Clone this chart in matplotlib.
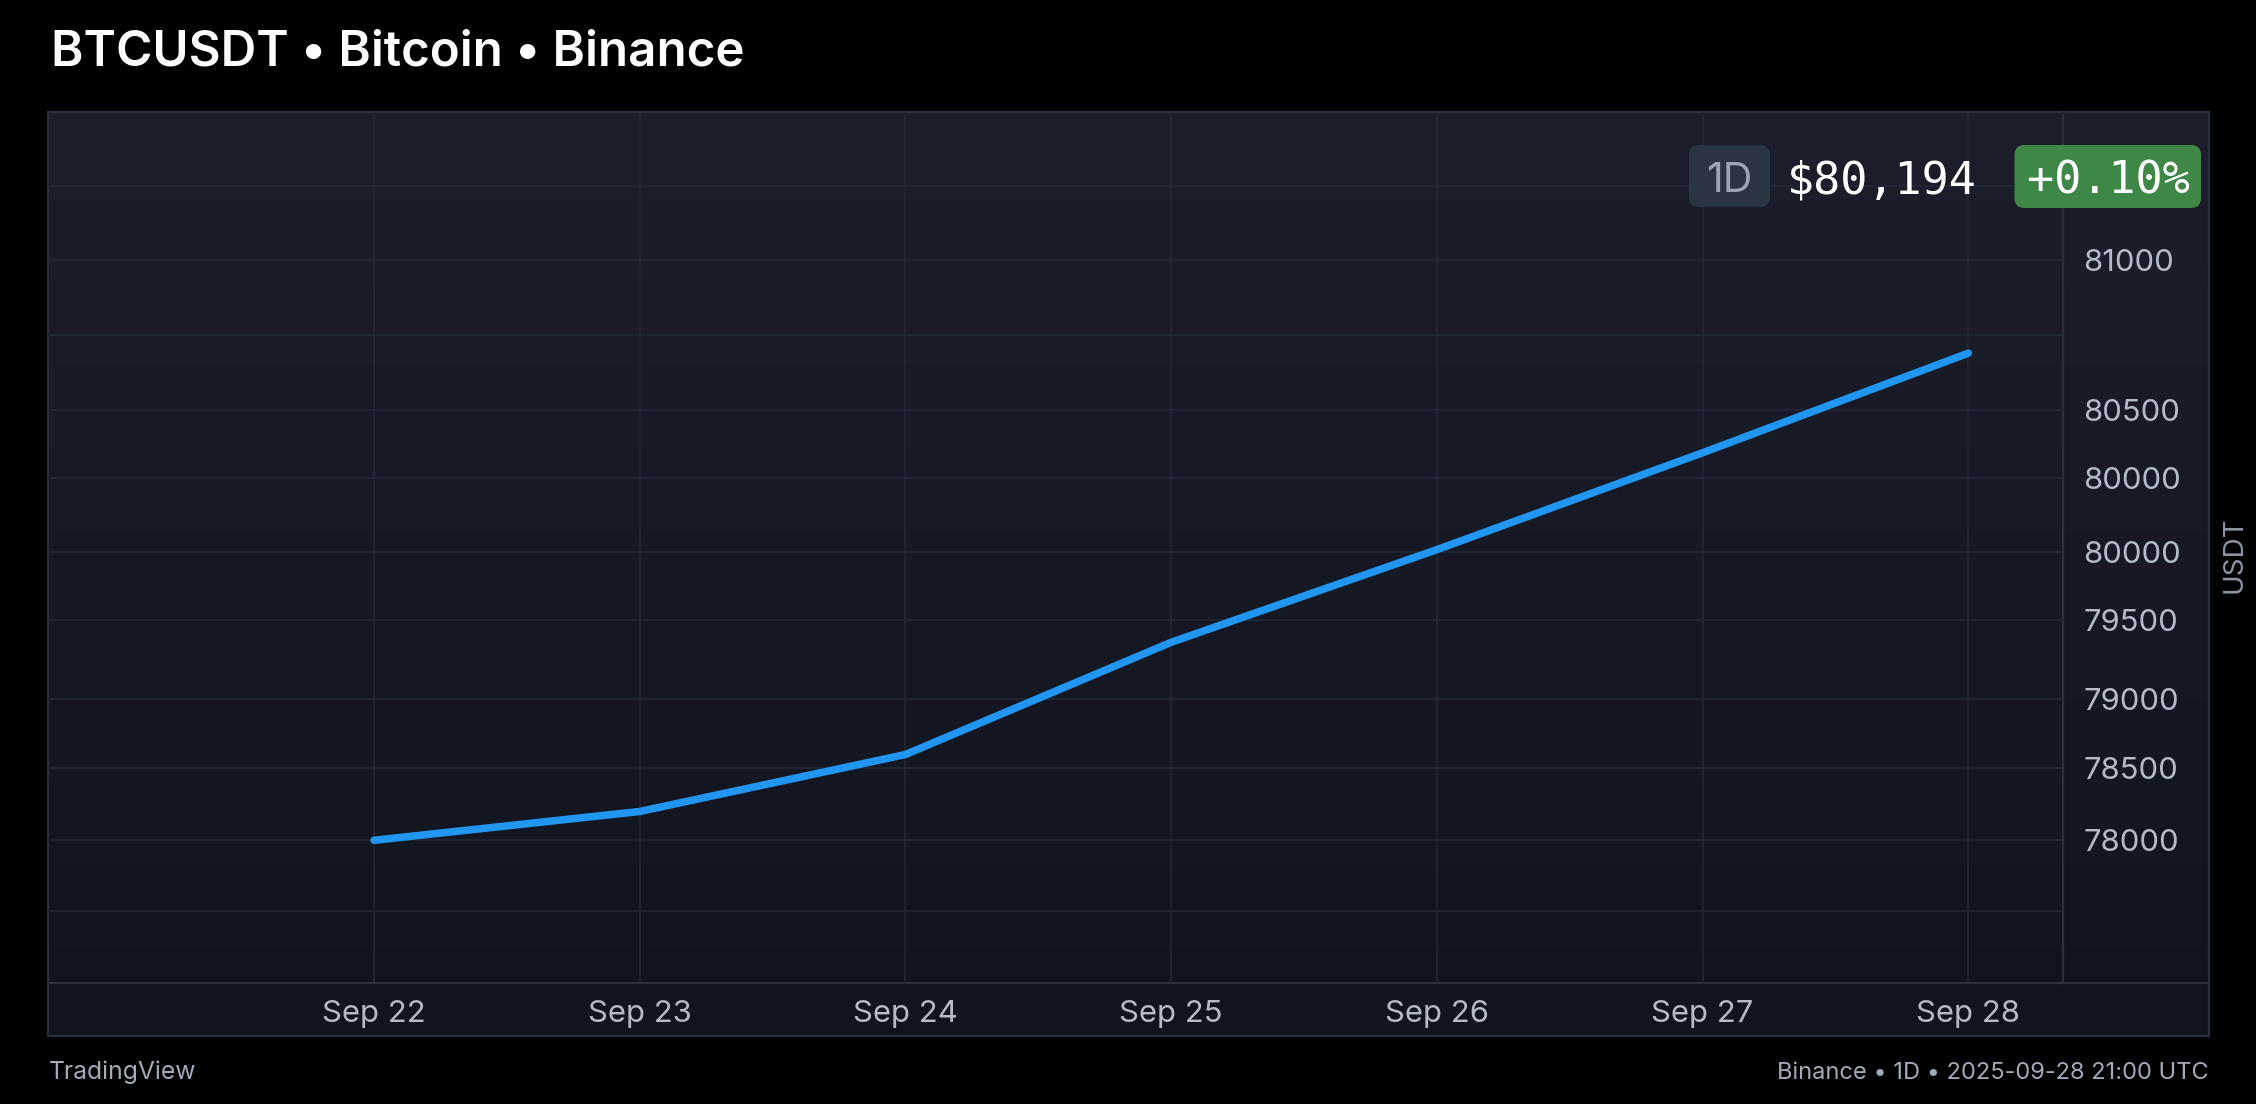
import numpy as np
import matplotlib
matplotlib.use("Agg")
import matplotlib.pyplot as plt
from matplotlib.patches import FancyBboxPatch, Rectangle
from matplotlib.lines import Line2D
from matplotlib.transforms import IdentityTransform
from matplotlib.ticker import NullFormatter

# ---------------- data ----------------
dates = ["Sep 22", "Sep 23", "Sep 24", "Sep 25", "Sep 26", "Sep 27", "Sep 28"]
close = [78000, 78200, 78600, 79360, 80010, 80350, 80690]

ytick_values = [78000, 78500, 79000, 79500, 80000, 80260, 80500, 81000]
ytick_labels = ["78000", "78500", "79000", "79500", "80000", "80000", "80500", "81000"]
extra_grid_values = [77500, 80750, 81500]

title = "BTCUSDT \u2022 Bitcoin \u2022 Binance"
interval = "1D"
last_price = "$80,194"
change = "+0.10%"
currency = "USDT"
footer_left = "TradingView"
footer_right = "Binance \u2022 1D \u2022 2025-09-28 21:00 UTC"

# price-scale knots (price -> relative height on the price scale)
scale_prices = [77000, 78000, 78500, 79000, 79500, 80000, 80500, 81000, 82000]
scale_rows = [0, 99, 149, 197, 252, 299, 398, 502, 605]

def fwd(v):
    return np.interp(v, scale_prices, scale_rows)

def inv(r):
    return np.interp(r, scale_rows, scale_prices)

# ---------------- layout ----------------
W, H = 2256, 1104
DPI = 100
fig = plt.figure(figsize=(W / DPI, H / DPI), dpi=DPI, facecolor="#000000")

panel_l, panel_r = 47.5, 2208.6
panel_t, panel_b = 112.2, 1036.0
main_r, main_b = 2063.2, 982.7

BORDER = "#2a2f3c"
GRID = "#232836"
TICK = "#b3bbc8"
FOOT = "#a3abb9"
FONT = "Inter"

bg = fig.add_axes([panel_l / W, 1 - panel_b / H, (panel_r - panel_l) / W, (panel_b - panel_t) / H])
grad = np.linspace(0, 1, 256).reshape(-1, 1)
top_c = np.array([0x1c, 0x1f, 0x2b]) / 255
bot_c = np.array([0x10, 0x14, 0x1f]) / 255
img = top_c[None, None, :] * (1 - grad[:, :, None]) + bot_c[None, None, :] * grad[:, :, None]
bg.imshow(img, extent=[0, 1, 0, 1], aspect="auto", origin="upper")
bg.set_xlim(0, 1)
bg.set_ylim(0, 1)
bg.axis("off")
bg.add_patch(Rectangle((0, 0), 1, 1, transform=bg.transAxes, fill=False,
                       edgecolor=BORDER, lw=1.6, clip_on=False))
sep = (panel_b - main_b) / (panel_b - panel_t)
bg.add_line(Line2D([0, 1], [sep, sep], transform=bg.transAxes, color=BORDER, lw=1.6))

ax = fig.add_axes([panel_l / W, 1 - main_b / H, (main_r - panel_l) / W, (main_b - panel_t) / H])
ax.set_facecolor("none")
ax.set_yscale("function", functions=(fwd, inv))

x = np.arange(len(dates))
ax.plot(x, close, color="#2196f3", lw=5.4, solid_capstyle="round",
        solid_joinstyle="round", zorder=3)

ax.set_xlim(-1.2292, 6.3573)
ax.set_ylim(77000, 82000)

ax.set_xticks(x)
ax.set_xticklabels(dates)
ax.set_yticks(ytick_values)
ax.set_yticklabels(ytick_labels)
ax.set_yticks(extra_grid_values, minor=True)
ax.yaxis.set_minor_formatter(NullFormatter())
ax.yaxis.tick_right()
ax.grid(which="both", color=GRID, lw=1.1)
ax.tick_params(which="both", length=0)
ax.tick_params(axis="y", pad=14.5, labelsize=22.3, labelcolor=TICK)
ax.tick_params(axis="x", pad=12.5, labelsize=22.3, labelcolor=TICK)
for lab in ax.get_xticklabels() + ax.get_yticklabels():
    lab.set_fontfamily(FONT)
for s in ["left", "top", "bottom"]:
    ax.spines[s].set_visible(False)
ax.spines["right"].set_color(BORDER)
ax.spines["right"].set_linewidth(1.6)

# ---------------- texts ----------------
fig.text(51 / W, 1 - 65 / H, title, fontsize=35.5, fontweight="semibold",
         color="white", ha="left", va="baseline", family=FONT)
fig.text(49 / W, 1 - 1079 / H, footer_left, fontsize=17.8, color=FOOT,
         ha="left", va="baseline", family=FONT)
fig.text(panel_r / W, 1 - 1079 / H, footer_right, fontsize=17.0, color=FOOT,
         ha="right", va="baseline", family=FONT)
fig.text(2235 / W, 1 - 555 / H, currency, fontsize=20, color="#8e96a4",
         rotation=90, ha="center", va="center", family=FONT)

# header badges (pixel coordinates)
idt = IdentityTransform()
fig.patches.append(FancyBboxPatch((1689, H - 207), 81, 62,
                                  boxstyle="round,pad=0,rounding_size=10",
                                  facecolor="#2a3542", edgecolor="none",
                                  transform=idt, figure=fig))
fig.patches.append(FancyBboxPatch((2014.5, H - 208), 186.5, 63,
                                  boxstyle="round,pad=0,rounding_size=10",
                                  facecolor="#3f8747", edgecolor="none",
                                  transform=idt, figure=fig))
fig.text(1729, H - 192, interval, fontsize=29.5, color="#9ba5b3",
         ha="center", va="baseline", family=FONT, transform=idt)
fig.text(1787, H - 193, last_price, fontsize=32.5, color="white",
         ha="left", va="baseline", family="DejaVu Sans Mono", transform=idt)
fig.text(2108.5, H - 193, change, fontsize=32.5, color="white",
         ha="center", va="baseline", family="DejaVu Sans Mono", transform=idt)

fig.savefig("out.png", dpi=DPI, facecolor=fig.get_facecolor())
